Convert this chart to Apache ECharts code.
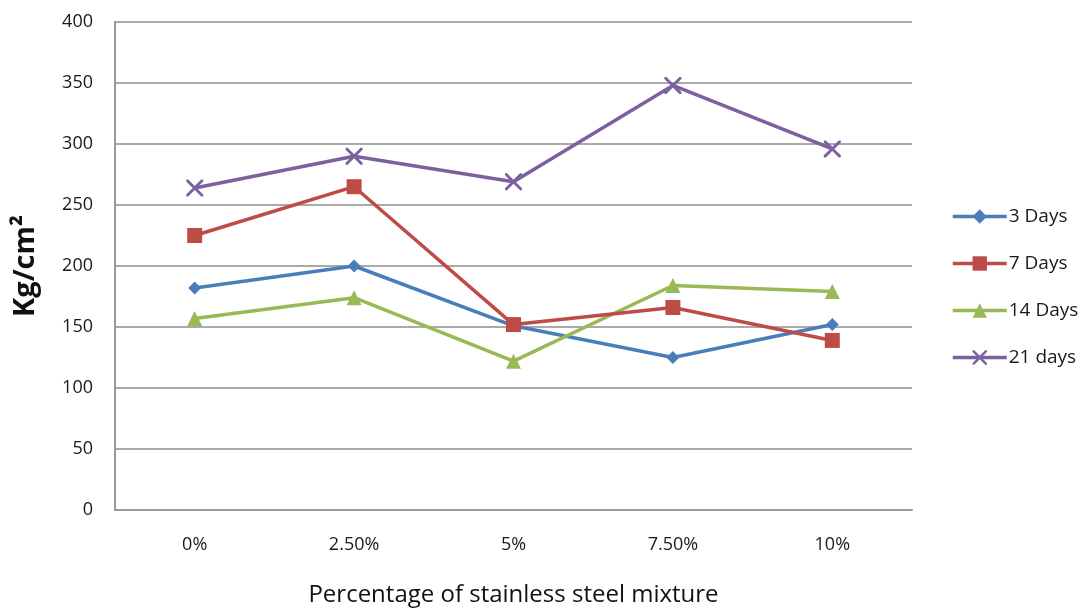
<!DOCTYPE html>
<html>
<head>
<meta charset="utf-8">
<script src="https://cdn.jsdelivr.net/npm/echarts@6/dist/echarts.min.js"></script>
<style>html,body{margin:0;padding:0;background:#fff}#c{width:1092px;height:615px}</style>
</head>
<body>
<div id="c"></div>
<script>
const categories = ['0%', '2.50%', '5%', '7.50%', '10%'];
const seriesNames = ['3 Days', '7 Days', '14 Days', '21 days'];
const days3 = [182, 200, 151, 125, 152];
const days7 = [225, 265, 152, 166, 139];
const days14 = [157, 174, 122, 184, 179];
const days21 = [264, 290, 269, 348, 296];
const yTicks = [0, 50, 100, 150, 200, 250, 300, 350, 400];

const colors = ['#4A7EBB', '#BE4B48', '#98B954', '#7D60A0'];
const xPath = 'path://M0,0L1.2,0L5,3.8L8.8,0L10,0L10,1.2L6.2,5L10,8.8L10,10L8.8,10L5,6.2L1.2,10L0,10L0,8.8L3.8,5L0,1.2Z';
const symbols = ['diamond', 'rect', 'triangle', xPath];
const sizes = [13, 15, 15, 17];
const data = [days3, days7, days14, days21];
const font = 'Open Sans';
const txt = '#1a1a1a';

const chart = echarts.init(document.getElementById('c'), null, {renderer: 'canvas'});
chart.setOption({
  animation: false,
  backgroundColor: '#fff',
  grid: {left: 115, right: 180, top: 22, bottom: 105, containLabel: false},
  legend: {
    orient: 'vertical', left: 946, top: 202, padding: 5,
    itemWidth: 54, itemHeight: 18, itemGap: 28,
    lineStyle: {width: 3.5},
    textStyle: {fontFamily: font, fontSize: 19, color: txt, padding: [0, 0, 0, -3]},
    data: seriesNames
  },
  xAxis: {
    type: 'category', data: categories, boundaryGap: true,
    axisLine: {lineStyle: {color: '#999', width: 2}},
    axisTick: {show: false},
    axisLabel: {fontFamily: font, fontSize: 18, color: txt, margin: 26},
    name: 'Percentage of stainless steel mixture', nameLocation: 'middle', nameGap: 73,
    nameTextStyle: {fontFamily: font, fontSize: 24, color: '#111'}
  },
  yAxis: {
    type: 'value', min: yTicks[0], max: yTicks[yTicks.length - 1], interval: 50,
    axisLine: {show: true, lineStyle: {color: '#999', width: 2}},
    axisTick: {show: false},
    splitLine: {lineStyle: {color: '#aaa', width: 2}},
    axisLabel: {fontFamily: font, fontSize: 18, color: txt, margin: 22},
    name: 'Kg/cm²', nameLocation: 'middle', nameGap: 75, nameRotate: 90,
    nameTextStyle: {fontFamily: font, fontSize: 29, fontWeight: 'bold', color: '#111'}
  },
  series: seriesNames.map((n, i) => ({
    name: n, type: 'line', data: data[i],
    symbol: symbols[i], symbolSize: sizes[i], showAllSymbol: true,
    lineStyle: {color: colors[i], width: 3.5},
    itemStyle: {color: colors[i], borderWidth: 0},
    z: i === 1 ? 3 : 2
  }))
});
</script>
</body>
</html>
